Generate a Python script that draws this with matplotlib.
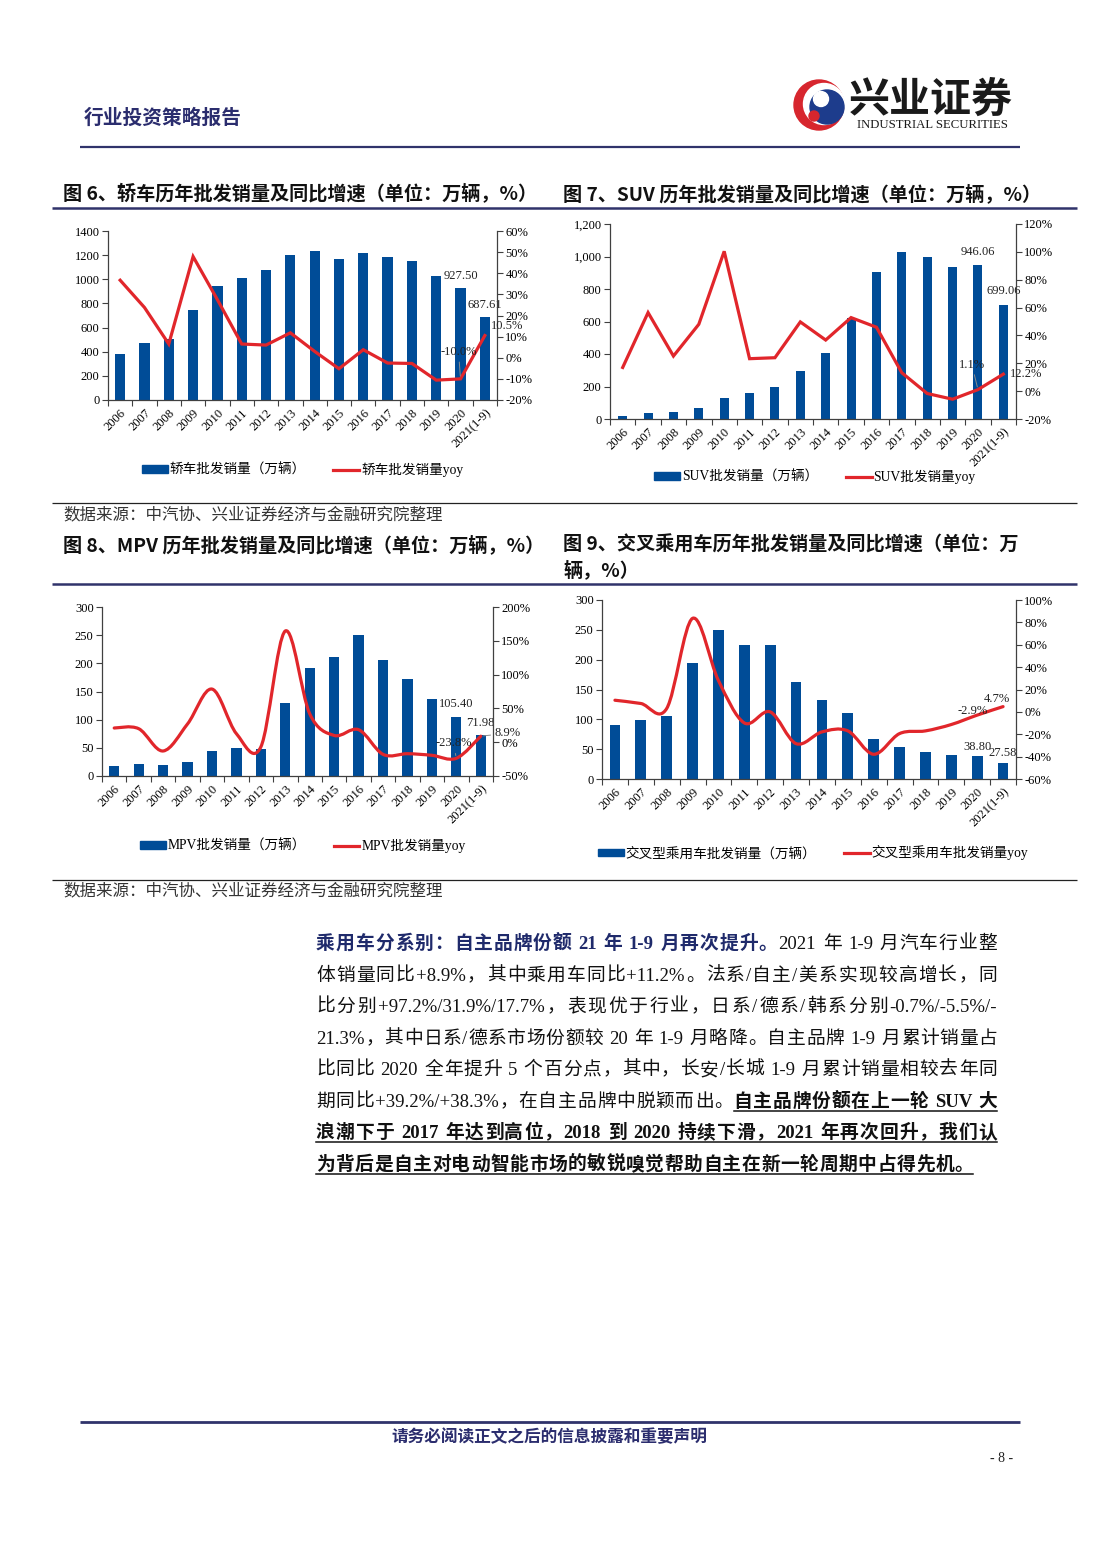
import re
import matplotlib
matplotlib.use("Agg")
import matplotlib.pyplot as plt
from matplotlib.path import Path
from matplotlib.patches import PathPatch, Patch, Circle
from matplotlib.lines import Line2D
from matplotlib.ticker import FuncFormatter, MultipleLocator
import numpy as np

# ---------------- data ----------------
years = ['2006', '2007', '2008', '2009', '2010', '2011', '2012', '2013',
         '2014', '2015', '2016', '2017', '2018', '2019', '2020', '2021(1-9)']

sedan_sales = [380, 471, 504, 747, 948, 1011, 1075, 1199, 1235, 1168, 1215, 1182, 1152, 1028, 927.50, 687.61]
sedan_yoy = [36.7, 23.8, 6.5, 47.9, 27.5, 6.5, 6.0, 11.8, 3.0, -5.2, 3.8, -2.5, -2.7, -10.6, -10.0, 10.5]

suv_sales = [21, 35, 45, 66, 132, 163, 200, 298, 408, 624, 904, 1025, 999, 935, 946.06, 699.06]
suv_yoy = [17.0, 56.4, 25.2, 48.0, 100.4, 23.3, 24.0, 49.7, 36.7, 52.8, 45.9, 13.2, -1.7, -5.8, 1.1, 12.2]

mpv_sales = [18.3, 21.9, 18.9, 24.3, 43.8, 49.1, 48.5, 129.6, 191.0, 210.7, 249.7, 206.5, 172.8, 137.3, 105.40, 71.98]
mpv_yoy = [21.0, 20.0, -13.0, 27.0, 78.6, 12.6, -7.0, 164.5, 42.0, 10.0, 18.5, -18.0, -17.0, -19.4, -23.8, 8.9]

cross_sales = [91.2, 98.5, 106.3, 194.2, 249.0, 225.0, 225.0, 161.8, 133.2, 110.3, 67.7, 54.3, 44.8, 39.7, 38.80, 27.58]
cross_yoy = [10.4, 7.5, 3.0, 83.6, 28.0, -9.9, 0.0, -28.4, -17.9, -17.0, -37.9, -19.4, -17.0, -11.3, -2.9, 4.7]

# ---------------- styles ----------------
BLUE = '#004C97'
RED = '#E1262B'
NAVY = '#2B2D6E'
AXC = '#404040'
SERIF = ['Liberation Serif', 'Noto Sans CJK SC']
CJK = ['Noto Sans CJK SC', 'DejaVu Sans']

plt.rcParams['font.family'] = SERIF
plt.rcParams['axes.unicode_minus'] = False

W, H = 1102, 1559
fig = plt.figure(figsize=(W / 100, H / 100), dpi=100)

# overlay axes in page pixels (y down)
ov = fig.add_axes([0, 0, 1, 1])
ov.set_xlim(0, W)
ov.set_ylim(H, 0)
ov.axis('off')


def hline(y, x1, x2, color, lw):
    ov.plot([x1, x2], [y, y], color=color, lw=lw, solid_capstyle='butt')


def px_rect(L, T, R, B):
    return [L / W, (H - B) / H, (R - L) / W, (B - T) / H]


def smooth_path(xs, ys):
    # catmull-rom like bezier through the points (excel smoothed line)
    pts = np.column_stack([xs, ys]).astype(float)
    n = len(pts)
    verts = [pts[0]]
    codes = [Path.MOVETO]
    for i in range(n - 1):
        p0 = pts[i - 1] if i > 0 else pts[i]
        p1 = pts[i]
        p2 = pts[i + 1]
        p3 = pts[i + 2] if i + 2 < n else pts[i + 1]
        c1 = p1 + (p2 - p0) / 6.0
        c2 = p2 - (p3 - p1) / 6.0
        verts += [c1, c2, p2]
        codes += [Path.CURVE4] * 3
    return Path(verts, codes)


def make_chart(rect, sales, yoy, lmax, lstep, rlim, rstep, bw, smooth, comma,
               labels, leg_anchor, notes, tick_fs=9):
    ax = fig.add_axes(px_rect(*rect))
    x = np.arange(len(years))
    ax.bar(x, sales, width=bw, color=BLUE, zorder=2)
    ax.set_xlim(-0.5, len(years) - 0.5)
    ax.set_ylim(0, lmax)
    ax.yaxis.set_major_locator(MultipleLocator(lstep))
    if comma:
        ax.yaxis.set_major_formatter(FuncFormatter(lambda v, p: f"{v:,.0f}"))
    else:
        ax.yaxis.set_major_formatter(FuncFormatter(lambda v, p: f"{v:.0f}"))
    ax.set_xticks(np.arange(-0.5, len(years)), [''] * (len(years) + 1))
    ax.set_xticks(x, years, minor=True, rotation=45, ha='right', va='top',
                  rotation_mode='anchor')
    ax.tick_params(axis='x', which='minor', length=0, pad=5, labelsize=tick_fs)
    ax.tick_params(axis='x', which='major', length=4, color=AXC)
    ax.tick_params(axis='y', length=4, color=AXC, labelsize=tick_fs, pad=2)
    for s in ['top', 'right']:
        ax.spines[s].set_visible(False)
    for s in ['left', 'bottom']:
        ax.spines[s].set_color(AXC)
        ax.spines[s].set_linewidth(0.9)

    ax2 = ax.twinx()
    ax2.set_ylim(*rlim)
    ax2.yaxis.set_major_locator(MultipleLocator(rstep))
    ax2.yaxis.set_major_formatter(FuncFormatter(lambda v, p: f"{v:.0f}%"))
    ax2.tick_params(axis='y', length=4, color=AXC, labelsize=tick_fs, pad=2)
    for s in ['top', 'left', 'bottom']:
        ax2.spines[s].set_visible(False)
    ax2.spines['right'].set_color(AXC)
    ax2.spines['right'].set_linewidth(0.9)
    if smooth:
        ax2.add_patch(PathPatch(smooth_path(x, yoy), fill=False, edgecolor=RED,
                                lw=2.3, capstyle='round', joinstyle='round'))
    else:
        ax2.plot(x, yoy, color=RED, lw=2.3, solid_joinstyle='miter')

    # value labels
    for which, i, dx, dy, leader in notes:
        if which == 'L':
            a, v, txt = ax, sales[i], f"{sales[i]:.2f}"
        else:
            a, v, txt = ax2, yoy[i], f"{yoy[i]:.1f}%"
        kw = {}
        if leader:
            kw['arrowprops'] = dict(arrowstyle='-', color='#8C8C8C', lw=0.7,
                                    shrinkA=1, shrinkB=2)
        a.annotate(txt, xy=(i, v), xytext=(dx * 0.72, dy * 0.72),
                   textcoords='offset points', ha='center', va='center',
                   fontsize=9, color='#222222', zorder=5, **kw)

    handles = [Patch(color=BLUE), Line2D([], [], color=RED, lw=2.3)]
    ax2.legend(handles, labels, loc='center', bbox_to_anchor=leg_anchor, ncol=2,
               frameon=False, prop=dict(family=SERIF, size=9.8),
               handlelength=1.9, handleheight=0.5, handletextpad=0.15,
               columnspacing=2.0)
    return ax, ax2


# ---------------- page decoration ----------------
ov.text(84, 118, '行业投资策略报告', fontsize=14.2, fontweight='bold', color=NAVY,
        family=CJK, va='center', ha='left')

# logo
ov.add_patch(Circle((819, 105), 25, color='#D7262E'))
ov.add_patch(Circle((824, 104), 20.5, color='white'))
ov.add_patch(Circle((827, 107), 17, color='#1D3C8C'))
ov.add_patch(Circle((821, 99), 7.5, color='white'))
ov.add_patch(Circle((814, 116), 5, color='#D7262E'))
ov.text(931, 100, '兴业证券', fontsize=29.5, fontweight='bold', color='#1A1A1A',
        family=CJK, va='center', ha='center')
ov.text(932, 125, 'INDUSTRIAL SECURITIES', fontsize=9.2, color='#1A1A1A',
        family=['Liberation Serif'], va='center', ha='center')

hline(147, 80, 1020, '#30336B', 1.6)

TFS = 13.8
ov.text(63, 194, '图 6、轿车历年批发销量及同比增速（单位：万辆，%）', fontsize=TFS,
        fontweight='bold', family=CJK, va='center', ha='left', color='#111111')
ov.text(563, 194, '图 7、SUV 历年批发销量及同比增速（单位：万辆，%）', fontsize=TFS,
        fontweight='bold', family=CJK, va='center', ha='left', color='#111111')
hline(208, 52, 1077, '#30336B', 1.8)

hline(503, 52, 1077, '#222222', 0.9)
ov.text(63, 515, '数据来源：中汽协、兴业证券经济与金融研究院整理', fontsize=11.9,
        family=CJK, va='center', ha='left', color='#333333')
ov.text(63, 545, '图 8、MPV 历年批发销量及同比增速（单位：万辆，%）', fontsize=TFS,
        fontweight='bold', family=CJK, va='center', ha='left', color='#111111')
ov.text(563, 545, '图 9、交叉乘用车历年批发销量及同比增速（单位：万', fontsize=TFS,
        fontweight='bold', family=CJK, va='center', ha='left', color='#111111')
ov.text(563, 570, '辆，%）', fontsize=TFS,
        fontweight='bold', family=CJK, va='center', ha='left', color='#111111')
hline(584, 52, 1077, '#30336B', 1.8)

hline(880, 52, 1077, '#222222', 0.9)
ov.text(63, 891, '数据来源：中汽协、兴业证券经济与金融研究院整理', fontsize=11.9,
        family=CJK, va='center', ha='left', color='#333333')

hline(1422, 80, 1020, '#30336B', 2.0)
ov.text(549, 1437, '请务必阅读正文之后的信息披露和重要声明', fontsize=12,
        fontweight='bold', family=CJK, va='center', ha='center', color=NAVY)
ov.text(1002, 1458, '- 8 -', fontsize=10, va='center', ha='center', color='#222222')

# ---------------- charts ----------------
make_chart((108, 231, 497, 400), sedan_sales, sedan_yoy, 1400, 200, (-20, 60), 10,
           0.42, False, False, ['轿车批发销量（万辆）', '轿车批发销量yoy'],
           (0.50, -0.414),
           [('L', 14, 0, 12, False), ('L', 15, 0, 12, False),
            ('R', 15, 22, 10, False), ('R', 14, -2, 27, True)])

make_chart((610, 224, 1016, 419), suv_sales, suv_yoy, 1200, 200, (-20, 120), 20,
           0.35, False, True, ['SUV批发销量（万辆）', 'SUV批发销量yoy'],
           (0.505, -0.297),
           [('L', 14, 0, 13, False), ('L', 15, 0, 14, False),
            ('R', 15, 23, 0, False), ('R', 14, -6, 25, True)])

make_chart((102, 607, 493, 776), mpv_sales, mpv_yoy, 300, 50, (-50, 200), 50,
           0.42, True, False, ['MPV批发销量（万辆）', 'MPV批发销量yoy'],
           (0.514, -0.414),
           [('L', 14, 0, 13, False), ('L', 15, 0, 12, False),
            ('R', 15, 27, 3, True), ('R', 14, -3, 15, True)])

make_chart((602, 600, 1016, 779), cross_sales, cross_yoy, 300, 50, (-60, 100), 20,
           0.42, True, False, ['交叉型乘用车批发销量（万辆）', '交叉型乘用车批发销量yoy'],
           (0.51, -0.413),
           [('L', 14, 0, 9, False), ('L', 15, 0, 10, False),
            ('R', 15, -6, 8, False), ('R', 14, -5, 4, False)])

# ---------------- body paragraph (justified) ----------------
TEXT_L, TEXT_R = 316, 997
PFS = 13.5
STY = {
    'lead': dict(fontsize=PFS, fontweight='bold', color='#1F2A6B', family=SERIF),
    'plain': dict(fontsize=PFS, color='#111111', family=SERIF),
    'ul': dict(fontsize=PFS, fontweight='bold', color='#111111', family=SERIF),
}
para = [
    [('乘用车分系别：自主品牌份额 21 年 1-9 月再次提升。', 'lead'), ('2021 年 1-9 月汽车行业整', 'plain')],
    [('体销量同比+8.9%，其中乘用车同比+11.2%。法系/自主/美系实现较高增长，同', 'plain')],
    [('比分别+97.2%/31.9%/17.7%，表现优于行业，日系/德系/韩系分别-0.7%/-5.5%/-', 'plain')],
    [('21.3%，其中日系/德系市场份额较 20 年 1-9 月略降。自主品牌 1-9 月累计销量占', 'plain')],
    [('比同比 2020 全年提升 5 个百分点，其中，长安/长城 1-9 月累计销量相较去年同', 'plain')],
    [('期同比+39.2%/+38.3%，在自主品牌中脱颖而出。', 'plain'), ('自主品牌份额在上一轮 SUV 大', 'ul')],
    [('浪潮下于 2017 年达到高位，2018 到 2020 持续下滑，2021 年再次回升，我们认', 'ul')],
    [('为背后是自主对电动智能市场的敏锐嗅觉帮助自主在新一轮周期中占得先机。', 'ul')],
]
line_y = [942, 974, 1005, 1037, 1068, 1100, 1131, 1163]

renderer = fig.canvas.get_renderer()
space_w = 0.25 * PFS * 100 / 72

for k, segs in enumerate(para):
    units = []
    for txt, st in segs:
        for tok in re.findall(r'[\x21-\x7e]+| |[^\x00-\x7f]', txt):
            units.append((tok, st))
    widths = []
    for tok, st in units:
        if tok == ' ':
            widths.append(space_w)
            continue
        t = ov.text(0, 0, tok, **STY[st])
        widths.append(t.get_window_extent(renderer).width)
        t.remove()
    justify = k < len(para) - 1
    gap = (TEXT_R - TEXT_L - sum(widths)) / (len(units) - 1) if justify else 0.6
    yb = line_y[k] + 7
    xc = TEXT_L
    ul_start, ul_end = None, None
    for (tok, st), w in zip(units, widths):
        if tok != ' ':
            ov.text(xc, yb, tok, ha='left', va='baseline', **STY[st])
        if st == 'ul':
            if ul_start is None:
                ul_start = xc
            ul_end = xc + w
        xc += w + gap
    if ul_start is not None:
        ov.plot([ul_start, ul_end], [yb + 4, yb + 4], color='#111111', lw=1.1)

fig.savefig('out.png', dpi=100)
